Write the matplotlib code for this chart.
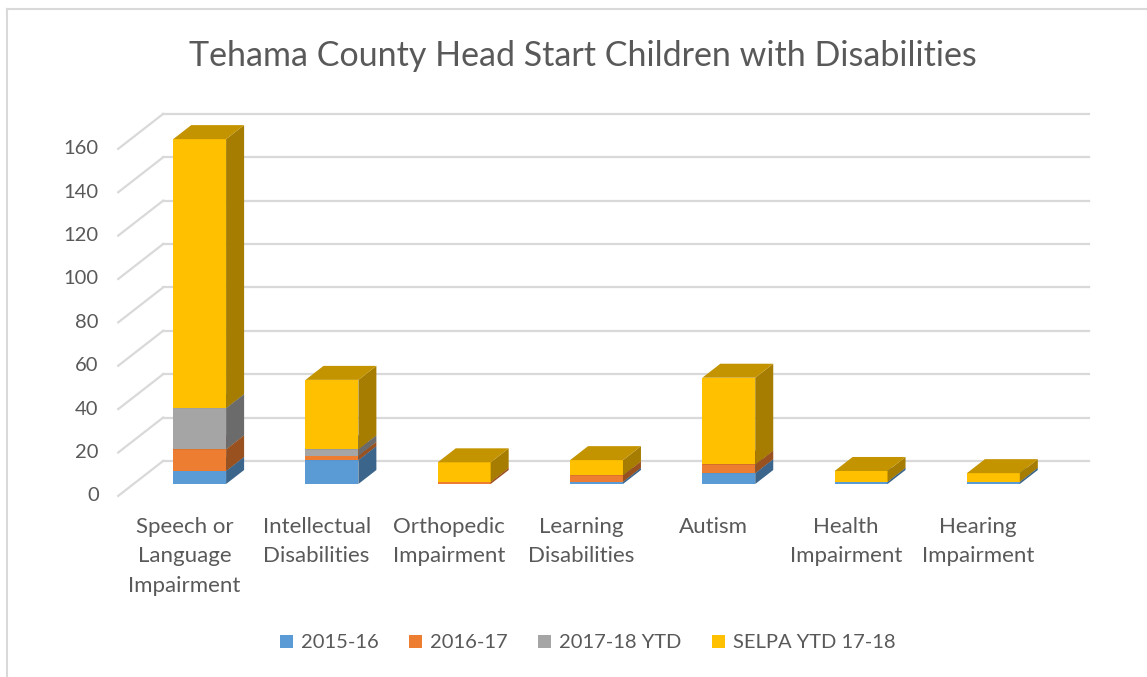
import numpy as np
import matplotlib
matplotlib.use("Agg")
import matplotlib.pyplot as plt
from matplotlib.patches import Polygon, Patch
from matplotlib.lines import Line2D
from matplotlib.colors import to_rgb

plt.rcParams['font.family'] = ['Lato', 'DejaVu Sans']

categories = ["Speech or\nLanguage\nImpairment", "Intellectual\nDisabilities",
              "Orthopedic\nImpairment", "Learning\nDisabilities", "Autism",
              "Health\nImpairment", "Hearing\nImpairment"]
series_names = ["2015-16", "2016-17", "2017-18 YTD", "SELPA YTD 17-18"]
y2015 = [6, 11, 0, 1, 5, 1, 1]
y2016 = [10, 2, 1, 3, 4, 0, 0]
y2017 = [19, 3, 0, 0, 0, 0, 0]
selpa = [124, 32, 9, 7, 40, 5, 4]
yticks = [0, 20, 40, 60, 80, 100, 120, 140, 160]

colors = ["#5B9BD5", "#ED7D31", "#A5A5A5", "#FFC000"]
grid_c = "#D9D9D9"
text_c = "#595959"

W, H = 1147, 677
fig = plt.figure(figsize=(W / 100, H / 100), dpi=100)

x_left, x_right = 133.5, 1059.5
y_zero, px_per_unit = 484.0, 2.169
ax = fig.add_axes([x_left / W, 1 - y_zero / H, (x_right - x_left) / W, 160 * px_per_unit / H])
ax.set_xlim(-0.5, 6.5)
ax.set_ylim(0, 160)
ax.axis('off')

# oblique 3d: one unit of depth in data units
cat_px = (x_right - x_left) / 7
DX = 45 / cat_px
DV = 35 / px_per_unit
d_bar = 0.34      # depth of bar front face
bar_depth = 0.4
bar_w = 0.4

def shade(c, f):
    r, g, b = to_rgb(c)
    return (r * f, g * f, b * f)

# back wall gridlines and left wall diagonals
back_dx, back_dv = (1 - d_bar) * DX, (1 - d_bar) * DV
front_dx, front_dv = -d_bar * DX, -d_bar * DV
for v in yticks:
    ax.add_line(Line2D([-0.5 + back_dx, 6.5 + back_dx], [v + back_dv, v + back_dv],
                       color=grid_c, lw=1.6, clip_on=False, zorder=1))
    ax.add_line(Line2D([-0.5 + front_dx, -0.5 + back_dx], [v + front_dv, v + back_dv],
                       color=grid_c, lw=1.6, clip_on=False, zorder=1))
    ax.annotate(str(v), xy=(-0.5 + front_dx, v + front_dv), xytext=(-14, 0),
                textcoords='offset points', ha='right', va='center',
                fontsize=14.5, color=text_c, annotation_clip=False)

# stacked 3d bars
series = [y2015, y2016, y2017, selpa]
x = np.arange(len(categories))
bdx, bdv = bar_depth * DX, bar_depth * DV
for i in x:
    base = 0
    for s, vals in enumerate(series):
        h = vals[i]
        if h <= 0:
            continue
        x0, x1 = i - bar_w / 2, i + bar_w / 2
        top = base + h
        z = 3 + s
        ax.bar(i, h, bar_w, bottom=base, color=colors[s], lw=0, clip_on=False, zorder=z)
        ax.add_patch(Polygon([(x1, base), (x1 + bdx, base + bdv), (x1 + bdx, top + bdv), (x1, top)],
                             closed=True, facecolor=shade(colors[s], 0.65), lw=0,
                             clip_on=False, zorder=z))
        ax.add_patch(Polygon([(x0, top), (x1, top), (x1 + bdx, top + bdv), (x0 + bdx, top + bdv)],
                             closed=True, facecolor=shade(colors[s], 0.77), lw=0,
                             clip_on=False, zorder=z))
        base = top

# category labels along the front edge
for i, lab in enumerate(categories):
    ax.annotate(lab, xy=(i + front_dx, front_dv), xytext=(0, -15),
                textcoords='offset points', ha='center', va='top',
                fontsize=16, color=text_c, linespacing=1.6, annotation_clip=False)

fig.text(583 / W, 1 - 56 / H, "Tehama County Head Start Children with Disabilities",
         ha='center', va='center', fontsize=24.5, color=text_c)

handles = [Patch(facecolor=c, edgecolor='none') for c in colors]
fig.legend(handles, series_names, loc='center', bbox_to_anchor=(588 / W, 1 - 643 / H),
           ncol=4, frameon=False, fontsize=14.5, labelcolor=text_c,
           handlelength=0.65, handleheight=0.65, handletextpad=0.4, columnspacing=1.5)

# chart border (top and left visible)
fig.add_artist(Line2D([7 / W, 1], [1 - 9 / H, 1 - 9 / H], color=grid_c, lw=1.5))
fig.add_artist(Line2D([7 / W, 7 / W], [0, 1 - 9 / H], color=grid_c, lw=1.5))

fig.savefig("out.png", dpi=100)
